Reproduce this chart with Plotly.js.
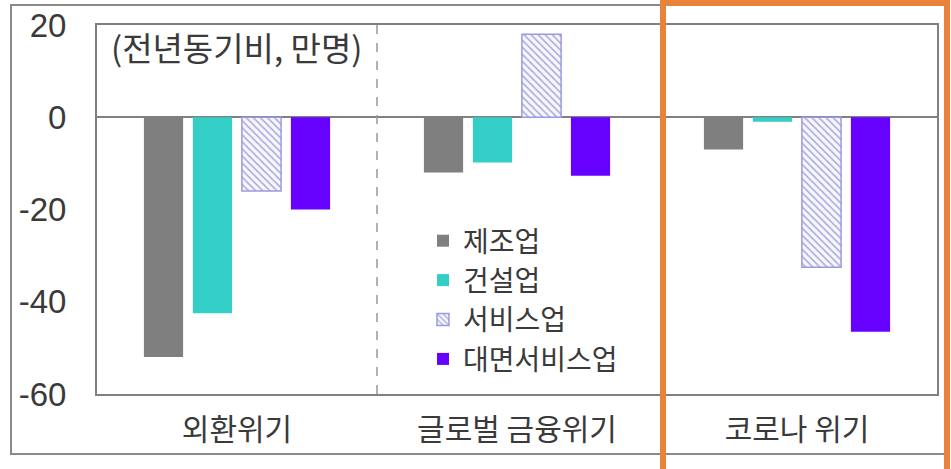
<!DOCTYPE html>
<html>
<head>
<meta charset="utf-8">
<script src="https://cdn.plot.ly/plotly-3.0.1.min.js"></script>
<style>html,body{margin:0;padding:0;background:#fff;}#chart{width:951px;height:469px;}</style>
</head>
<body>
<div id="chart"></div>
<script>
const categories = ["외환위기", "글로벌 금융위기", "코로나 위기"];
const seriesNames = ["제조업", "건설업", "서비스업", "대면서비스업"];
const manufacturing = [-52, -12, -7];
const construction = [-42.5, -9.8, -1];
const services = [-16, 18, -32.5];
const faceToFace = [-20, -12.7, -46.5];
const yTicks = [20, 0, -20, -40, -60];
const unitNote = "(전년동기비, 만명)";

const FONT = "Liberation Sans, Arial, 'Noto Sans CJK KR', sans-serif";
const KFONT = "'Noto Sans CJK KR', 'Liberation Sans', sans-serif";

const traces = [
  {type: 'bar', name: seriesNames[0], x: categories, y: manufacturing,
   marker: {color: '#7f7f7f'}},
  {type: 'bar', name: seriesNames[1], x: categories, y: construction,
   marker: {color: '#33cfc6'}},
  {type: 'bar', name: seriesNames[2], x: categories, y: services,
   marker: {color: '#ffffff', line: {color: '#9a9ae0', width: 1.5},
            pattern: {shape: '\\', fgcolor: '#a8a8dc', bgcolor: '#f7f7ff', size: 5, solidity: 0.3}}},
  {type: 'bar', name: seriesNames[3], x: categories, y: faceToFace,
   marker: {color: '#6600ff'}}
];

// plot area: x 97..937, y 25..394
const L = 97, R = 937, T = 25, B = 394;
const px = v => (v - L) / (R - L);
const py = v => (B - v) / (B - T);

const layout = {
  width: 951, height: 469,
  margin: {l: L, r: 951 - R, t: T, b: 469 - B, pad: 0},
  paper_bgcolor: '#ffffff', plot_bgcolor: '#ffffff',
  barmode: 'group', bargap: 0.3, bargroupgap: 0.2,
  showlegend: true,
  legend: {x: px(423), y: py(216), xanchor: 'left', yanchor: 'top',
           bgcolor: 'rgba(0,0,0,0)', font: {family: KFONT, size: 28, color: '#3a3a3a'},
           tracegroupgap: 0, itemwidth: 30},
  xaxis: {type: 'category', showgrid: false, zeroline: false,
          showline: true, mirror: true, linecolor: '#808080', linewidth: 2,
          ticks: '', ticklabelstandoff: 8,
          tickfont: {family: KFONT, size: 30, color: '#3a3a3a'}, fixedrange: true},
  yaxis: {range: [-60, 20], tickvals: yTicks, ticktext: yTicks.map(String),
          showgrid: false, zeroline: true, zerolinecolor: '#808080', zerolinewidth: 2,
          showline: true, mirror: true, linecolor: '#808080', linewidth: 2,
          ticks: '', ticklabelstandoff: 22,
          tickfont: {family: FONT, size: 33, color: '#3a3a3a'}, fixedrange: true},
  annotations: [
    {xref: 'paper', yref: 'paper', x: px(109), y: py(47), xanchor: 'left', yanchor: 'middle',
     text: unitNote, showarrow: false, font: {family: KFONT, size: 33, color: '#3a3a3a'}}
  ],
  shapes: [
    // outer frame
    {type: 'rect', xref: 'paper', yref: 'paper', x0: px(11), x1: px(946), y0: py(454), y1: py(5),
     line: {color: '#8a8a8a', width: 2}, layer: 'below'},
    // dashed divider
    {type: 'line', xref: 'x', yref: 'paper', x0: 0.5, x1: 0.5, y0: 0, y1: 1,
     line: {color: '#999999', width: 1.5, dash: 'dash'}},
    // orange highlight box
    {type: 'rect', xref: 'paper', yref: 'paper', x0: px(663), x1: px(947), y0: py(480), y1: py(3),
     line: {color: '#e8843a', width: 6}}
  ]
};

Plotly.newPlot('chart', traces, layout, {displayModeBar: false, staticPlot: true});
</script>
</body>
</html>
